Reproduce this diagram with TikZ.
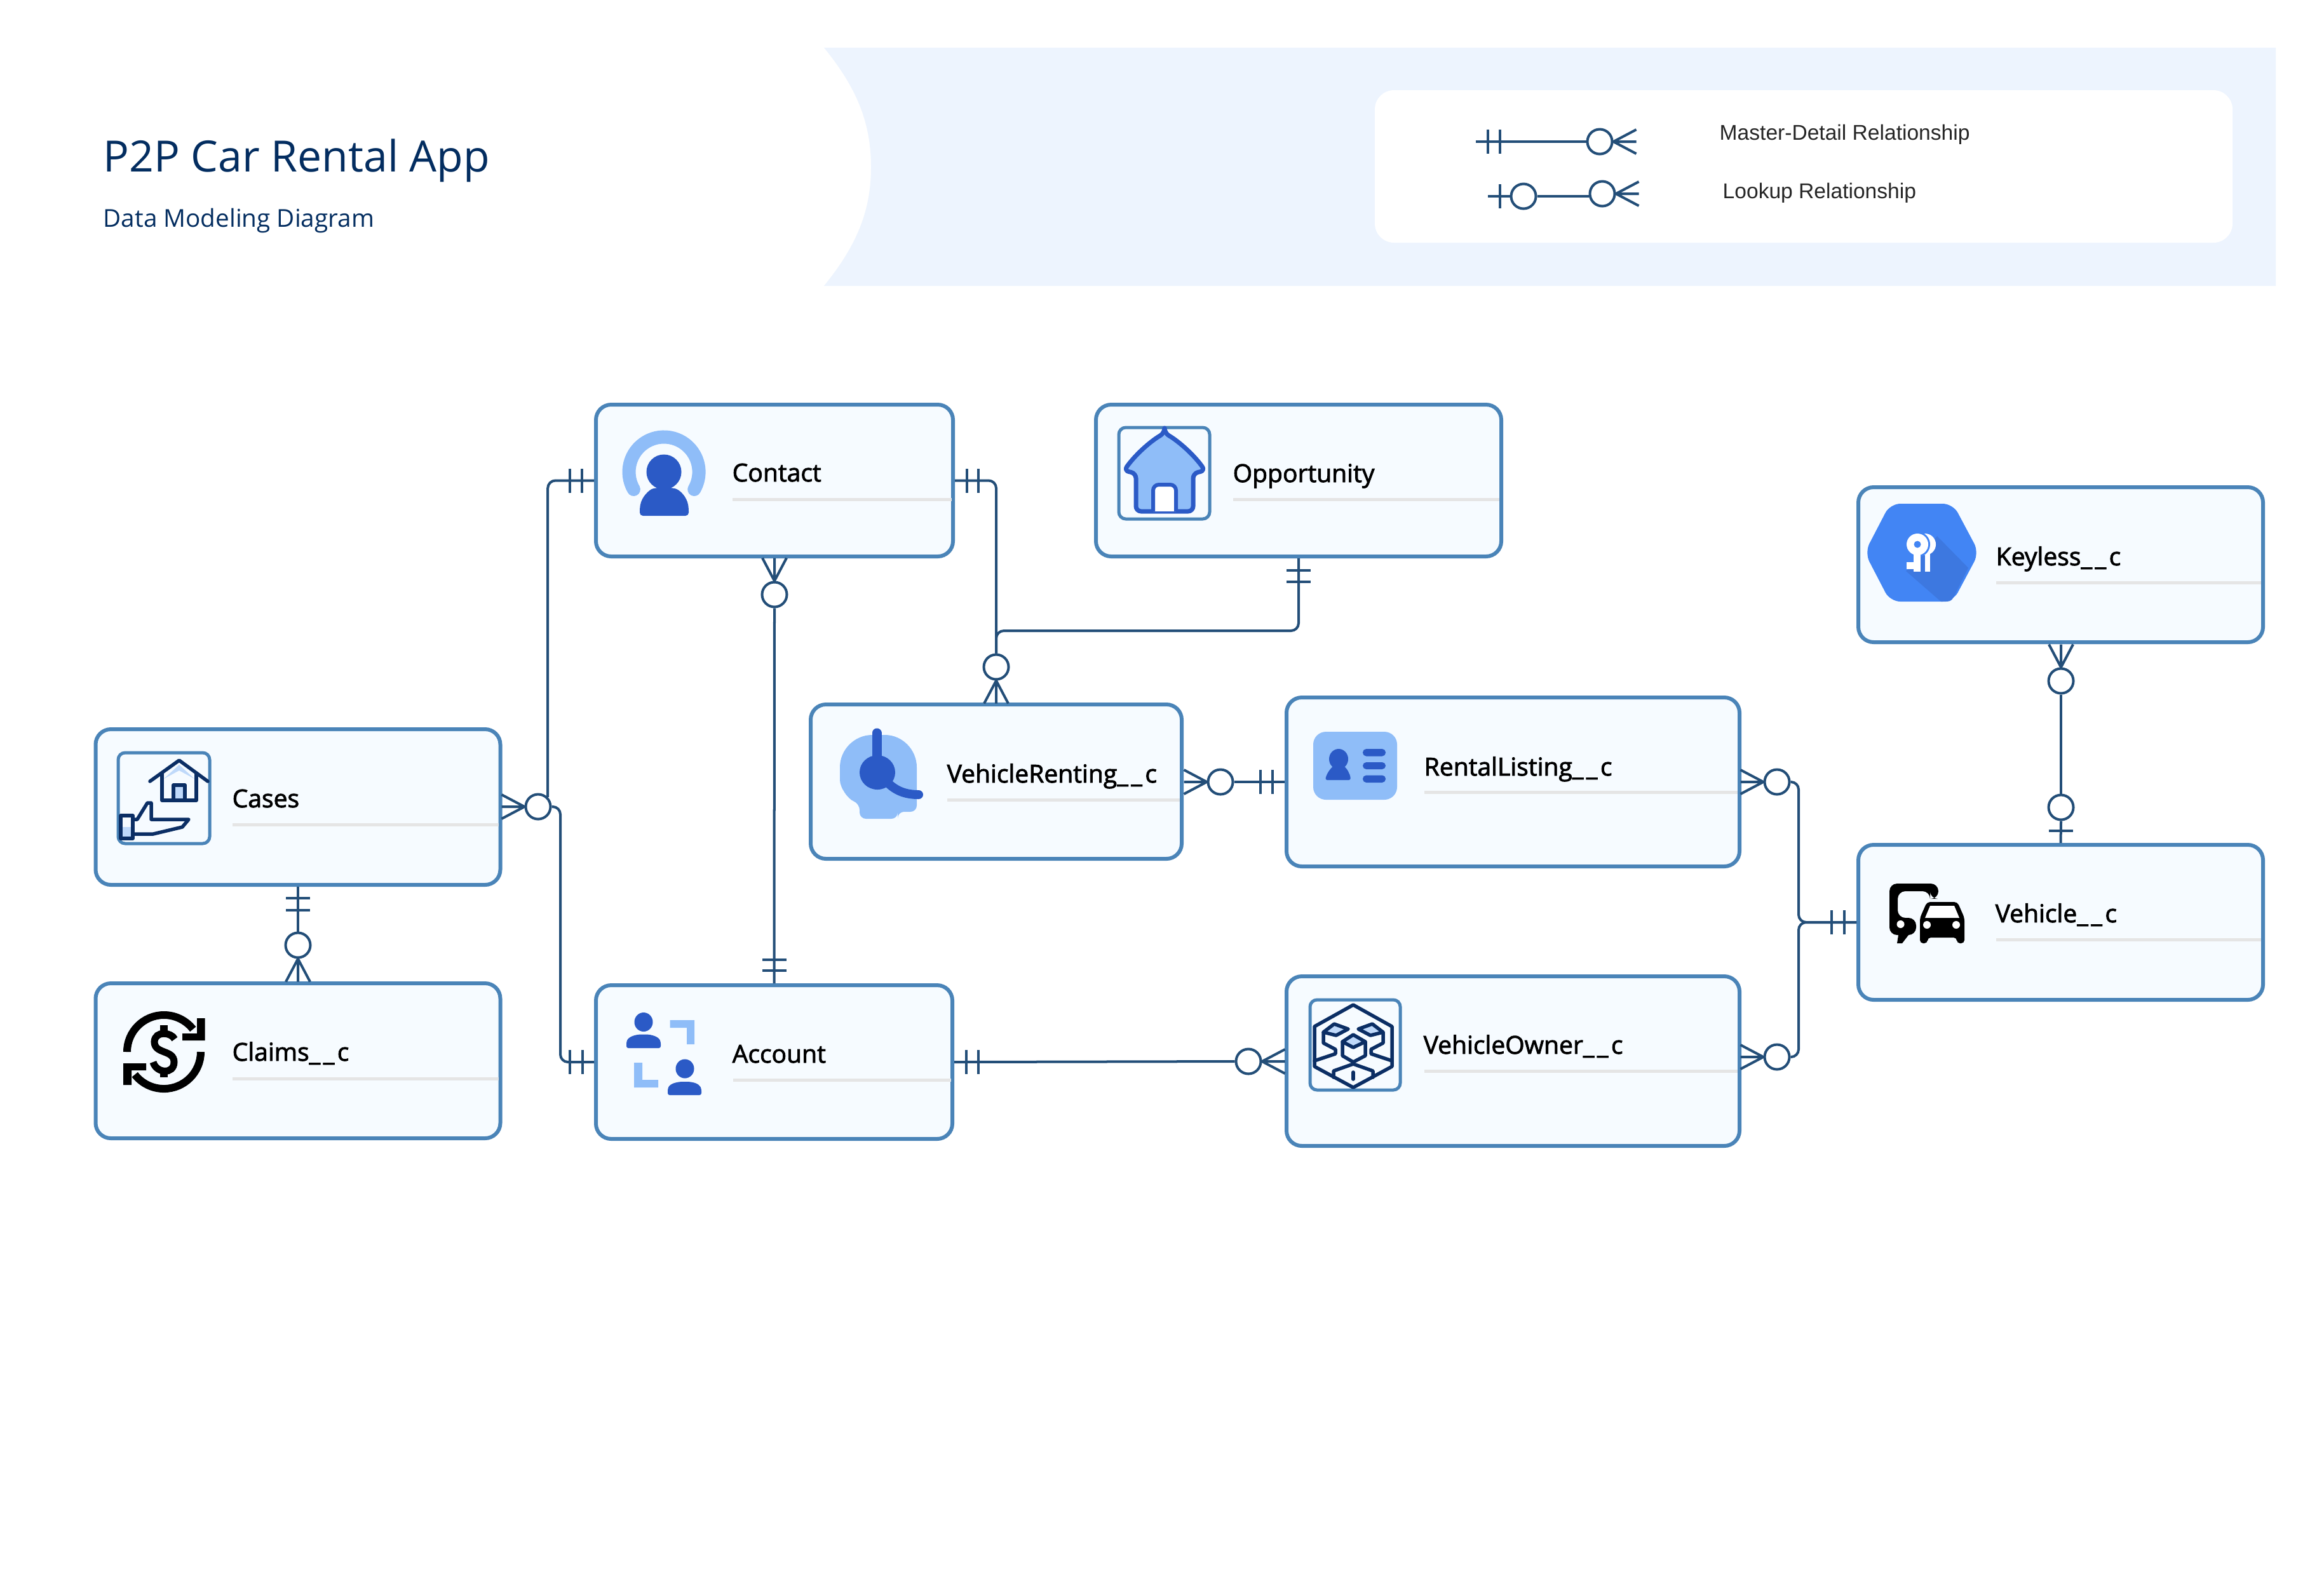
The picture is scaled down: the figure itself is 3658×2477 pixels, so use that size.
\documentclass[tikz,border=0pt]{standalone}
\usepackage{fontspec}
\setmainfont{Open Sans}
\newfontfamily\legendfont{Liberation Sans}
\newfontfamily\entityfont{Open Sans}[FakeBold=2.2]
\newcommand{\dunder}{\_\kern1.3pt\_\kern1.3pt}
\definecolor{bannerblue}{HTML}{EDF4FE}
\definecolor{entityfill}{HTML}{F6FBFF}
\definecolor{entityline}{HTML}{4A84B8}
\definecolor{linkblue}{HTML}{234E78}
\definecolor{skyblue}{HTML}{8FBDF8}
\definecolor{deepblue}{HTML}{2B5AC6}
\definecolor{navyblue}{HTML}{0B2E64}
\definecolor{paleblue}{HTML}{BFD9FA}
\definecolor{hexblue}{HTML}{4285F4}
\definecolor{hexshade}{HTML}{3D78E0}
\definecolor{titleblue}{HTML}{032D60}
\definecolor{rulegray}{HTML}{E5E5E5}
\tikzset{
	entity/.style 2 args={draw=entityline, fill=entityfill, line width=0.06cm, rounded corners=0.24cm, minimum width=#1*0.01cm, minimum height=#2*0.01cm, inner sep=0pt},
	entitylabel/.style={anchor=base west, inner sep=0pt, font=\entityfont\fontsize{11.1}{13}\selectfont},
	legendlabel/.style={anchor=base west, inner sep=0pt, text=black!85, font=\legendfont\fontsize{9.55}{11}\selectfont},
	hollow/.style={circle, draw=linkblue, fill=white, line width=0.04cm, minimum size=0.39cm, inner sep=0pt},
	link/.style={draw=linkblue, line width=0.04cm, rounded corners=0.12cm},
	divider/.style={draw=rulegray, line width=0.05cm},
	iconframe/.style={draw=entityline, fill=entityfill, line width=0.05cm, rounded corners=0.11cm},
	iconline/.style={draw=navyblue, line width=0.055cm, line join=round, line cap=round},
	crowfoot/.pic={
		\draw[linkblue, line width=0.04cm] (36,-19) -- (0,0) -- (36,19) (0,0) -- (36,0);
	},
	barmark/.pic={
		\draw[linkblue, line width=0.04cm] (0,-19) -- (0,19);
	},
}
\begin{document}
\begin{tikzpicture}[x=0.01cm, y=-0.01cm]
	\useasboundingbox (0,0) rectangle (3658,2477);
	\fill[white] (0,0) rectangle (3658,2477);
	\fill[bannerblue] (1297,75) -- (3582,75) -- (3582,450) -- (1297,450) .. controls (1350,385) and (1371,330) .. (1371,263) .. controls (1371,195) and (1350,140) .. (1297,75) -- cycle;
	\fill[white, rounded corners=0.3cm] (2164,142) rectangle (3514,382);
	\node[anchor=base west, inner sep=0pt, text=titleblue, font=\fontsize{19.3}{23}\selectfont] (title) at (162,270) {P2P Car Rental App};
	\node[anchor=base west, inner sep=0pt, text=titleblue, font=\fontsize{11}{13}\selectfont] (subtitle) at (162,357) {Data Modeling Diagram};

	\coordinate (masterstart) at (2323,223);
	\node[hollow] (masterend) at (2518,223) {};
	\draw[link] (masterstart) -- (masterend.west);
	\pic at (2342,223) {barmark};
	\pic at (2361,223) {barmark};
	\pic at (masterend.east) {crowfoot};
	\coordinate (lookupstart) at (2342,309);
	\node[hollow] (lookupfirst) at (2398,309) {};
	\node[hollow] (lookupend) at (2522,305) {};
	\draw[link] (lookupstart) -- (lookupfirst.west);
	\draw[link] (lookupfirst.east) -- (lookupfirst.east -| lookupend.west);
	\pic at (2361,309) {barmark};
	\pic at (lookupend.east) {crowfoot};
	\node[legendlabel] (masterlabel) at (2706,220) {Master-Detail Relationship};
	\node[legendlabel] (lookuplabel) at (2711,312) {Lookup Relationship};

	\node[entity={562}{239}] (contact) at (1219,756.5) {};
	\node[entity={638}{239}] (opportunity) at (2044,756.5) {};
	\node[entity={637}{245}] (cases) at (469,1270.5) {};
	\node[entity={637}{244}] (claims) at (469,1670) {};
	\node[entity={584}{243}] (renting) at (1568,1230.5) {};
	\node[entity={561}{242}] (account) at (1218.5,1672) {};
	\node[entity={713}{266}] (listing) at (2381.5,1231) {};
	\node[entity={713}{267}] (owner) at (2381.5,1670.5) {};
	\node[entity={637}{244}] (keyless) at (3243.5,889) {};
	\node[entity={637}{244}] (vehicle) at (3243.5,1452) {};

	\draw[divider] (1153,786) -- (1498,786);
	\draw[divider] (1941,786) -- (2360,786);
	\draw[divider] (366,1298) -- (785,1298);
	\draw[divider] (366,1698) -- (785,1698);
	\draw[divider] (1491,1259) -- (1857,1259);
	\draw[divider] (1154,1700) -- (1497,1700);
	\draw[divider] (2242,1247) -- (2735,1247);
	\draw[divider] (2242,1686) -- (2735,1686);
	\draw[divider] (3142,917) -- (3559,917);
	\draw[divider] (3142,1479) -- (3559,1479);

	\node[entitylabel] (contactlabel) at (1152,758) {Contact};
	\node[entitylabel] (opportunitylabel) at (1940,759) {Opportunity};
	\node[entitylabel] (caseslabel) at (365,1271) {Cases};
	\node[entitylabel] (claimslabel) at (365,1670) {Claims\dunder c};
	\node[entitylabel] (rentinglabel) at (1490,1232) {VehicleRenting\dunder c};
	\node[entitylabel] (accountlabel) at (1152,1673) {Account};
	\node[entitylabel] (listinglabel) at (2241,1221) {RentalListing\dunder c};
	\node[entitylabel] (ownerlabel) at (2240,1659) {VehicleOwner\dunder c};
	\node[entitylabel] (keylesslabel) at (3141,890) {Keyless\dunder c};
	\node[entitylabel] (vehiclelabel) at (3140,1452) {Vehicle\dunder c};

	\node[hollow] (casesend) at (847,1270) {};
	\node[hollow] (contactend) at (1219,936) {};
	\node[hollow] (rentingend) at (1568,1050) {};
	\node[hollow] (rentingright) at (1921,1231) {};
	\node[hollow] (claimsend) at (469,1488) {};
	\node[hollow] (ownerin) at (1965,1671) {};
	\node[hollow] (listingend) at (2797,1231) {};
	\node[hollow] (ownerend) at (2797,1664) {};
	\node[hollow] (keylessend) at (3244,1072) {};
	\node[hollow] (vehicleend) at (3244,1271) {};
	\coordinate (casesbend) at (882,1270);
	\coordinate (oppjoin) at (1568,993);
	\coordinate (listingbend) at (2831,1231);
	\coordinate (ownerbend) at (2831,1664);

	\draw[link] (contact.west) -| (casesend.north east);
	\draw[link] (casesend.east) -- (casesbend) |- (account.west);
	\draw[link] (contactend.south) -- (account.north);
	\draw[link] (contact.east) -| (rentingend.north);
	\draw[link] (opportunity.south) |- (oppjoin) -- (rentingend.north);
	\draw[link] (rentingright.east) -- (listing.west);
	\draw[link] (account.east) -- (ownerin.west);
	\draw[link] (listingend.east) -- (listingbend) |- (vehicle.west);
	\draw[link] (ownerend.east) -- (ownerbend) |- (vehicle.west);
	\draw[link] (keylessend.south) -- (vehicleend.north);
	\draw[link] (vehicleend.south) -- (vehicle.north);
	\draw[link] (cases.south) -- (claimsend.north);

	\pic[rotate=180] at (casesend.west) {crowfoot};
	\pic[rotate=90] at (contactend.north) {crowfoot};
	\pic[rotate=-90] at (rentingend.south) {crowfoot};
	\pic[rotate=180] at (rentingright.west) {crowfoot};
	\pic[rotate=-90] at (claimsend.south) {crowfoot};
	\pic at (ownerin.east) {crowfoot};
	\pic[rotate=180] at (listingend.west) {crowfoot};
	\pic[rotate=180] at (ownerend.west) {crowfoot};
	\pic[rotate=90] at (keylessend.north) {crowfoot};
	\pic at (897,757) {barmark};
	\pic at (916,757) {barmark};
	\pic at (897,1672) {barmark};
	\pic at (917,1672) {barmark};
	\pic at (1522,757) {barmark};
	\pic at (1540,757) {barmark};
	\pic at (1521,1672) {barmark};
	\pic at (1540,1672) {barmark};
	\pic at (1984,1231) {barmark};
	\pic at (2003,1231) {barmark};
	\pic at (2883,1452) {barmark};
	\pic at (2903,1452) {barmark};
	\pic[rotate=90] at (1219,1511) {barmark};
	\pic[rotate=90] at (1219,1528) {barmark};
	\pic[rotate=90] at (2044,898) {barmark};
	\pic[rotate=90] at (2044,916) {barmark};
	\pic[rotate=90] at (469,1414) {barmark};
	\pic[rotate=90] at (469,1433) {barmark};
	\pic[rotate=90] at (3244,1308) {barmark};

	\draw[skyblue, line width=0.21cm, line cap=round] (997.4,770.5) arc[start angle=210, end angle=-30, radius=0.55cm];
	\fill[deepblue] (1045,743) circle[radius=0.275cm];
	\fill[deepblue, rounded corners=0.05cm] (1007,812) -- (1007,800) .. controls (1010,782) and (1022,771) .. (1032,768) -- (1058,768) .. controls (1070,771) and (1081,782) .. (1084,800) -- (1084,812) -- cycle;

	\draw[iconframe] (1761,673) rectangle (1904,817);
	\draw[deepblue, fill=skyblue, line width=0.07cm, line join=round, rounded corners=0.08cm] (1833,682) .. controls (1815,692) and (1790,712) .. (1769,741) -- (1788,745) -- (1788,805) -- (1878,805) -- (1878,745) -- (1897,741) .. controls (1876,712) and (1851,692) .. (1833,682) -- cycle;
	\draw[deepblue, fill=white, line width=0.06cm, rounded corners=0.09cm] (1815,805) -- (1815,763) -- (1851,763) -- (1851,805);

	\draw[iconframe] (186,1185) rectangle (330,1328);
	\fill[paleblue] (282,1204) -- (258,1226) -- (282,1213) -- (306,1226) -- cycle;
	\fill[paleblue] (273,1235) rectangle (291,1259);
	\fill[paleblue] (192,1302) rectangle (207,1319);
	\draw[iconline] (236,1230) -- (282,1197) -- (327,1230);
	\draw[iconline] (255,1217) -- (255,1260) -- (309,1260) -- (309,1217);
	\draw[iconline] (273,1259) -- (273,1236) -- (291,1236) -- (291,1259);
	\draw[iconline] (190,1284) rectangle (209,1320);
	\draw[iconline] (209,1290) -- (216,1290) -- (232,1264) -- (238,1264) -- (238,1290) -- (297,1290) -- (287,1302) -- (241,1313) -- (209,1313);

	\draw[black, line width=0.12cm] (200,1656) arc[start angle=180, end angle=38, radius=0.58cm];
	\draw[black, line width=0.12cm] (316,1656) arc[start angle=0, end angle=-142, radius=0.58cm];
	\fill[black] (310,1603) -- (322.5,1603) -- (322.5,1638) -- (287,1638) -- (287,1627) -- (310,1627) -- cycle;
	\fill[black] (207,1708) -- (194,1708) -- (194,1674) -- (230,1674) -- (230,1685) -- (207,1685) -- cycle;
	\draw[black, line width=0.11cm] (275,1636) .. controls (270,1625) and (244,1622) .. (243,1640) .. controls (243,1660) and (274,1652) .. (274,1672) .. controls (274,1692) and (246,1690) .. (241,1672);
	\fill[black] (252,1614) rectangle (264,1626);
	\fill[black] (252,1684) rectangle (264,1696);

	\fill[skyblue, rounded corners=0.1cm] (1322,1218) .. controls (1322,1180) and (1345,1157) .. (1383,1157) .. controls (1420,1157) and (1443,1180) .. (1443,1218) -- (1443,1278) -- (1413,1278) -- (1413,1289) -- (1353,1289) -- (1353,1265) .. controls (1335,1258) and (1322,1240) .. (1322,1218) -- cycle;
	\draw[deepblue, line width=0.15cm, line cap=round] (1380,1154) -- (1380,1200);
	\fill[deepblue] (1381,1216) ellipse[x radius=0.28cm, y radius=0.27cm];
	\draw[deepblue, line width=0.14cm, line cap=round] (1397,1232) .. controls (1410,1245) and (1425,1251) .. (1446,1251);

	\fill[deepblue] (1013,1609) ellipse[x radius=0.145cm, y radius=0.15cm];
	\fill[deepblue, rounded corners=0.03cm] (986,1650) -- (986,1640) .. controls (990,1632) and (1000,1628.5) .. (1013,1628.5) .. controls (1026,1628.5) and (1036,1632) .. (1040,1640) -- (1040,1650) -- cycle;
	\fill[deepblue] (1078,1682.5) ellipse[x radius=0.145cm, y radius=0.15cm];
	\fill[deepblue, rounded corners=0.03cm] (1051,1724) -- (1051,1714) .. controls (1055,1706) and (1065,1703) .. (1078,1703) .. controls (1091,1703) and (1100,1706) .. (1104,1714) -- (1104,1724) -- cycle;
	\fill[skyblue] (1054.5,1606) -- (1093,1606) -- (1093,1644) -- (1081,1644) -- (1081,1618) -- (1054.5,1618) -- cycle;
	\fill[skyblue] (998,1673) -- (1011,1673) -- (1011,1700) -- (1036,1700) -- (1036,1712) -- (998,1712) -- cycle;

	\fill[skyblue, rounded corners=0.2cm] (2067,1152) rectangle (2199,1259);
	\fill[deepblue] (2107,1195) ellipse[x radius=0.15cm, y radius=0.16cm];
	\fill[deepblue, rounded corners=0.03cm] (2086,1228) .. controls (2088,1218) and (2094,1210) .. (2100,1205) -- (2114,1205) .. controls (2120,1210) and (2125,1218) .. (2126,1228) -- cycle;
	\fill[deepblue, rounded corners=0.055cm] (2145,1179) rectangle (2181,1190.5);
	\fill[deepblue, rounded corners=0.055cm] (2145,1200) rectangle (2181,1211);
	\fill[deepblue, rounded corners=0.055cm] (2145,1220.5) rectangle (2181,1232);

	\draw[iconframe] (2062,1574) rectangle (2204,1716);
	\draw[iconline] (2130,1582) -- (2191,1616) -- (2191,1679) -- (2130,1712) -- (2069,1679) -- (2069,1616) -- cycle;
	\draw[iconline, fill=paleblue] (2083,1625) -- (2100,1612) -- (2122,1620) -- (2103,1630) -- cycle;
	\draw[iconline, fill=paleblue] (2177,1625) -- (2160,1612) -- (2138,1620) -- (2157,1630) -- cycle;
	\draw[iconline] (2083,1625) -- (2083,1642) -- (2102,1652) -- (2102,1659) -- (2069,1670);
	\draw[iconline] (2177,1625) -- (2177,1642) -- (2158,1652) -- (2158,1659) -- (2191,1670);
	\draw[iconline, fill=paleblue] (2130,1629) -- (2113,1640) -- (2130,1649) -- (2149,1640) -- cycle;
	\draw[iconline] (2113,1640) -- (2113,1662) -- (2130,1672) -- (2149,1662) -- (2149,1640);
	\draw[iconline] (2099,1696) -- (2099,1686) -- (2130,1675) -- (2161,1686) -- (2161,1696);
	\draw[iconline] (2130,1688) -- (2130,1699);

	\fill[hexblue, rounded corners=0.16cm] (2935,870) -- (2975,793) -- (3074,793) -- (3115,870) -- (3074,947) -- (2975,947) -- cycle;
	\fill[hexshade] (3049,844) -- (3098,894) -- (3075,940) .. controls (3071,947) and (3068,947) .. (3060,947) -- (3055,947) -- (3000,899) -- cycle;
	\fill[white] (3030,857) circle[radius=0.17cm];
	\fill[white] (3030,868) rectangle (3038,900);
	\fill[hexblue] (3018,857) circle[radius=0.2cm];
	\fill[white] (3018,857) circle[radius=0.17cm];
	\fill[white] (3012,870) rectangle (3023,900);
	\fill[white] (3001,885) rectangle (3012,896);
	\fill[hexblue] (3018,857) circle[radius=0.055cm];

	\fill[black, rounded corners=0.12cm] (2974,1472) -- (2974,1391) -- (3051,1391) -- (3051,1415) -- (3038,1415) -- (3038,1403) -- (2987,1403) -- (2987,1445) -- (3016,1445) -- (3016,1472) -- cycle;
	\fill[black] (2986,1485) -- (2988,1472) -- (3004,1472) -- (2994,1485) -- cycle;
	\fill[white] (2991.5,1455) circle[radius=0.06cm];
	\fill[black, rounded corners=0.05cm] (3022,1485) -- (3022,1445) -- (3033,1420) -- (3081,1420) -- (3092,1445) -- (3092,1485) -- (3080,1485) -- (3080,1476) -- (3034,1476) -- (3034,1485) -- cycle;
	\fill[white] (3030,1445) -- (3038,1426) -- (3076,1426) -- (3084,1445) -- cycle;
	\fill[white] (3033,1456) circle[radius=0.06cm];
	\fill[white] (3079,1456) circle[radius=0.06cm];
\end{tikzpicture}
\end{document}
